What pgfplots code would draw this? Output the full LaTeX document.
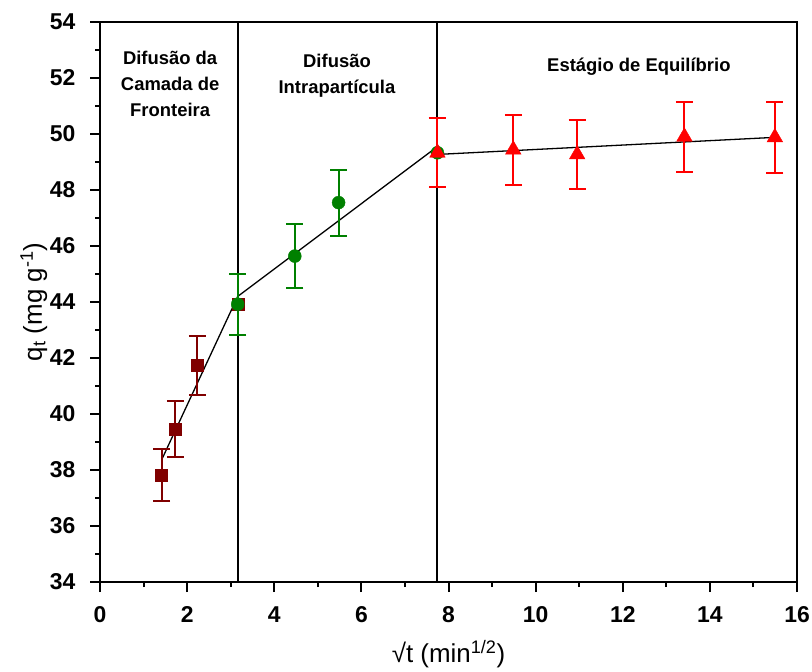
\documentclass[border=0pt]{standalone}
\usepackage{pgfplots}
\pgfplotsset{compat=1.18}
\usepackage{fontspec}
\setmainfont{Liberation Sans}
\definecolor{dred}{HTML}{800000}
\definecolor{dgreen}{HTML}{008000}
\definecolor{bred}{HTML}{FF0000}

\pgfplotstableread{
x y e
1.414 37.82 0.94
1.732 39.46 0.99
2.236 41.73 1.05
3.162 43.92 1.09
}\stageone
\pgfplotstableread{
x y e
3.162 43.92 1.09
4.472 45.64 1.13
5.477 47.55 1.18
7.746 49.33 1.24
}\stagetwo
\pgfplotstableread{
x y e
7.746 49.33 1.24
9.487 49.44 1.25
10.954 49.27 1.24
13.416 49.90 1.26
15.492 49.88 1.26
}\stagethree

\begin{document}
\begin{tikzpicture}
\begin{axis}[
 at={(0,0)}, anchor=south west,
 scale only axis, width=697bp, height=560bp,
 xmin=0,xmax=16,ymin=34,ymax=54,
 xtick={0,2,...,16}, ytick={34,36,...,54},
 minor x tick num=1, minor y tick num=1,
 tick align=outside, tick pos=left,
 major tick length=10bp, minor tick length=5bp,
 tick style={black, line width=2bp},
 axis line style={line width=2.5bp},
 ticklabel style={font=\bfseries\fontsize{23}{23}\selectfont},
 yticklabel style={xshift=-11bp},
 xticklabel style={yshift=-11bp},
 /pgf/number format/assume math mode=true,
 label style={font=\fontsize{26}{28}\selectfont},
 xlabel={√t (min\textsuperscript{1/2})},
 ylabel={q\textsubscript{t} (mg g\textsuperscript{-1})},
 xlabel style={yshift=-11bp},
 ylabel style={yshift=-4bp},
 clip=false,
]
% vertical separators
\addplot[black, line width=2bp] coordinates {(3.162,34) (3.162,54)};
\addplot[black, line width=2bp] coordinates {(7.746,34) (7.746,54)};
% fitted lines
\addplot[black, line width=1.3bp] coordinates {(1.414,38.36) (3.162,44.2)};
\addplot[black, line width=1.3bp] coordinates {(3.162,44.2) (7.746,49.55)};
\addplot[black, line width=1.3bp] coordinates {(7.746,49.27) (15.492,49.88)};
% data
\addplot[only marks, mark=square*, color=dred, mark size=6bp,
  error bars/.cd, y dir=both, y explicit,
  error bar style={line width=2bp, dred},
  error mark options={rotate=90, mark size=8.5bp, line width=2bp, dred}]
  table[x=x,y=y,y error=e] {\stageone};
\addplot[only marks, mark=*, color=dgreen, mark size=6.5bp,
  error bars/.cd, y dir=both, y explicit,
  error bar style={line width=2bp, dgreen},
  error mark options={rotate=90, mark size=8.5bp, line width=2bp, dgreen}]
  table[x=x,y=y,y error=e] {\stagetwo};
\addplot[only marks, mark=triangle*, color=bred, mark size=9bp,
  error bars/.cd, y dir=both, y explicit,
  error bar style={line width=2bp, bred},
  error mark options={rotate=90, mark size=8.5bp, line width=2bp, bred}]
  table[x=x,y=y,y error=e] {\stagethree};
% annotations
\node[align=center, font=\bfseries\fontsize{18.5}{26}\selectfont] at (axis cs:1.61,51.79) {Difusão da\\Camada de\\Fronteira};
\node[align=center, font=\bfseries\fontsize{18.5}{26}\selectfont] at (axis cs:5.44,52.07) {Difusão\\Intrapartícula};
\node[align=center, font=\bfseries\fontsize{18.5}{26}\selectfont] at (axis cs:12.37,52.39) {Estágio de Equilíbrio};
\end{axis}
\pgfresetboundingbox
\path[use as bounding box] (-100bp,-90bp) rectangle (712bp,582bp);
\end{tikzpicture}
\end{document}
